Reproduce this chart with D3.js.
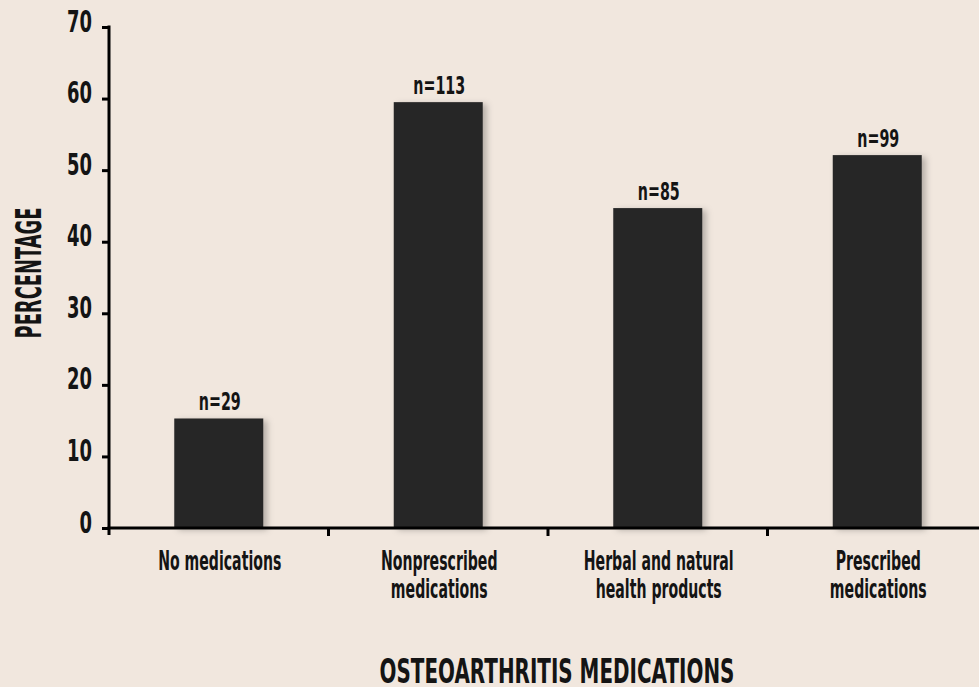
<!DOCTYPE html>
<html>
<head>
<meta charset="utf-8">
<script src="https://cdn.jsdelivr.net/npm/d3@7"></script>
<style>
  html, body { margin: 0; padding: 0; background: #f1e7de; }
  svg { display: block; }
  text { font-family: "DejaVu Sans", sans-serif; font-weight: bold; fill: #141414; }
</style>
</head>
<body>
<script>
const categories = [["No medications"], ["Nonprescribed", "medications"], ["Herbal and natural", "health products"], ["Prescribed", "medications"]];
const values = [15.3, 59.5, 44.7, 52.1];
const nLabels = ["n=29", "n=113", "n=85", "n=99"];
const yTicks = [0, 10, 20, 30, 40, 50, 60, 70];

const W = 979, H = 687;
const svg = d3.select("body").append("svg").attr("width", W).attr("height", H);
svg.append("rect").attr("width", W).attr("height", H).attr("fill", "#f1e7de");

// condensed-font emulation: horizontal scale factor from a sample's measured width
function condenseFactor(sample, size, target) {
  const t = svg.append("text").attr("font-size", size).text(sample);
  const len = t.node().getComputedTextLength();
  t.remove();
  return target / len;
}
function place(sel, x, y, s) {
  sel.attr("x", 0).attr("y", 0).attr("transform", `translate(${x},${y}) scale(${s},1)`);
}

const defs = svg.append("defs");
const f = defs.append("filter").attr("id", "sh").attr("x", "-20%").attr("y", "-20%").attr("width", "150%").attr("height", "140%");
f.append("feDropShadow").attr("dx", 4).attr("dy", 2).attr("stdDeviation", 3).attr("flood-color", "#000").attr("flood-opacity", 0.25);

const x0 = 109, y0 = 528, yTop = 27;
const x = d3.scaleBand().domain(d3.range(categories.length)).range([x0, x0 + 4 * 219.5]);
const y = d3.scaleLinear().domain([0, 70]).range([y0, yTop]);
const bw = 89;
const cx = i => x(i) + x.bandwidth() / 2;

// bars
svg.selectAll("rect.bar").data(values).join("rect")
  .attr("class", "bar")
  .attr("x", (d, i) => cx(i) - bw / 2)
  .attr("y", d => y(d))
  .attr("width", bw)
  .attr("height", d => y0 - y(d))
  .attr("fill", "#262626")
  .attr("filter", "url(#sh)");

// n labels
const nSize = 25, nS = condenseFactor("n=113", nSize, 52);
svg.selectAll("text.n").data(values).join("text")
  .attr("class", "n")
  .attr("text-anchor", "middle")
  .attr("font-size", nSize)
  .text((d, i) => nLabels[i])
  .each(function (d, i) { place(d3.select(this), cx(i) + 1, y(d) - 8, nS); });

// y axis
const tSize = 30, tS = condenseFactor("70", tSize, 25);
const yAxis = d3.axisLeft(y).tickValues(yTicks).tickSize(7).tickPadding(10).tickFormat(d3.format("d"));
const gy = svg.append("g").attr("transform", `translate(${x0},0)`).call(yAxis);
gy.select(".domain").remove();
gy.append("line").attr("x1", 0).attr("x2", 0).attr("y1", yTop - 1.5).attr("y2", y0 + 7).attr("stroke", "#000").attr("stroke-width", 3);
gy.selectAll(".tick line").attr("stroke", "#000").attr("stroke-width", 3);
gy.selectAll(".tick text").attr("font-size", tSize).attr("fill", "#141414").attr("dy", null)
  .attr("font-family", '"DejaVu Sans", sans-serif').attr("font-weight", "bold")
  .each(function () { place(d3.select(this), -17, 4, tS); });

// x axis
svg.append("line").attr("x1", x0 - 1.5).attr("x2", W).attr("y1", y0).attr("y2", y0).attr("stroke", "#000").attr("stroke-width", 3);
svg.selectAll("line.xt").data(d3.range(1, categories.length)).join("line")
  .attr("class", "xt")
  .attr("x1", i => x(i)).attr("x2", i => x(i))
  .attr("y1", y0).attr("y2", y0 + 8)
  .attr("stroke", "#000").attr("stroke-width", 3);

// category labels
const cSize = 26, cS = condenseFactor("Herbal and natural", cSize, 150);
const catLines = categories.flatMap((lines, i) => lines.map((s, j) => ({ s, i, j })));
svg.selectAll("text.cat").data(catLines).join("text")
  .attr("class", "cat")
  .attr("text-anchor", "middle")
  .attr("font-size", cSize)
  .text(d => d.s)
  .each(function (d) { place(d3.select(this), cx(d.i) + 1, 570 + d.j * 28, cS); });

// axis titles
const ttSize = 34;
const ttS = condenseFactor("OSTEOARTHRITIS MEDICATIONS", ttSize, 355);
svg.append("text").attr("text-anchor", "middle").attr("font-size", ttSize).attr("fill", "#222")
  .text("OSTEOARTHRITIS MEDICATIONS")
  .call(s => place(s, 557, 683, ttS));
const ySize = 35, yS = condenseFactor("PERCENTAGE", ySize, 131);
svg.append("text").attr("text-anchor", "middle").attr("font-size", ySize).attr("fill", "#222")
  .text("PERCENTAGE")
  .attr("x", 0).attr("y", 0)
  .attr("transform", `translate(41,273) rotate(-90) scale(${yS},1)`);
</script>
</body>
</html>
